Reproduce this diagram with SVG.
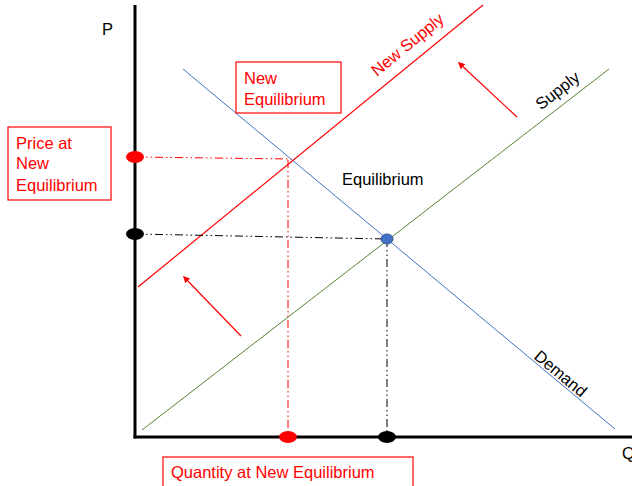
<svg xmlns="http://www.w3.org/2000/svg" width="632" height="486" viewBox="0 0 632 486">
<defs>
<style>
text{font-family:"Liberation Sans",Arial,sans-serif;font-size:16.5px}
.red{fill:#FF0000}
.blk{fill:#000}
.box{fill:#fff;stroke:#FF0000;stroke-width:1.2}
.dr{stroke:#FF0000;stroke-width:1;stroke-dasharray:8 3 1.5 3 1.5 3;fill:none}
.db{stroke:#000;stroke-width:1;stroke-dasharray:8 3 1.5 3 1.5 3;fill:none}
.arr{stroke:#FF0000;stroke-width:1.2;fill:none;marker-end:url(#ah)}
</style>
<marker id="ah" viewBox="0 0 10 10" refX="8" refY="5" markerWidth="7" markerHeight="7" orient="auto" markerUnits="userSpaceOnUse">
<path d="M0,0 L10,5 L0,10 z" fill="#FF0000"/>
</marker>
</defs>
<rect width="632" height="486" fill="#fff"/>
<g id="connectors">
<line id="demand-line" x1="183" y1="69" x2="615" y2="429" stroke="#4472C4" stroke-width="1"/>
<line id="supply-line" x1="142" y1="430" x2="609" y2="69" stroke="#548235" stroke-width="1"/>
<line id="newsupply-line" x1="138" y1="287" x2="483" y2="5" stroke="#FF0000" stroke-width="1.2"/>
<line class="dr" x1="135" y1="157" x2="291" y2="159"/>
<line class="dr" x1="288" y1="160" x2="288" y2="437"/>
<line class="db" x1="135" y1="234" x2="387" y2="239"/>
<line class="db" x1="387" y1="239" x2="387" y2="437"/>
<line class="arr" x1="517" y1="117" x2="459" y2="63"/>
<line class="arr" x1="241" y1="336" x2="184" y2="277"/>
</g>
<g id="axes">
<line x1="135" y1="5" x2="135" y2="438.5" stroke="#000" stroke-width="3"/>
<line x1="133.5" y1="437" x2="632" y2="437" stroke="#000" stroke-width="3"/>
<text x="102" y="35" class="blk" font-size="14">P</text>
<text x="622" y="459" class="blk">Q</text>
</g>
<g id="points">
<ellipse cx="135" cy="157" rx="9" ry="6" fill="#FF0000"/>
<ellipse cx="135" cy="234" rx="9" ry="6" fill="#000"/>
<ellipse cx="288" cy="437" rx="9" ry="6" fill="#FF0000"/>
<ellipse cx="387" cy="437" rx="9" ry="6" fill="#000"/>
<ellipse id="equilibrium-point" cx="387" cy="239" rx="6" ry="5" fill="#4472C4" stroke="#2F528F" stroke-width="1"/>
</g>
<g id="label-new-equilibrium">
<rect class="box" x="236" y="62" width="105" height="51"/>
<text x="244" y="84" class="red">New</text>
<text x="244" y="105" class="red">Equilibrium</text>
</g>
<g id="label-price">
<rect class="box" x="8" y="127" width="103" height="73"/>
<text x="16" y="149" class="red">Price at</text>
<text x="16" y="169" class="red">New</text>
<text x="16" y="191" class="red">Equilibrium</text>
</g>
<g id="label-quantity">
<rect class="box" x="163" y="457" width="250" height="40"/>
<text x="171" y="478" class="red">Quantity at New Equilibrium</text>
</g>
<g id="label-equilibrium">
<text x="342" y="185" class="blk">Equilibrium</text>
</g>
<g id="label-new-supply">
<text x="0" y="0" class="red" text-anchor="middle" transform="translate(411,49) rotate(-39.3)">New Supply</text>
</g>
<g id="label-supply">
<text x="0" y="0" class="blk" text-anchor="middle" transform="translate(561,95) rotate(-37.7)">Supply</text>
</g>
<g id="label-demand">
<text x="0" y="0" class="blk" text-anchor="middle" transform="translate(557,378) rotate(39.7)">Demand</text>
</g>
</svg>
